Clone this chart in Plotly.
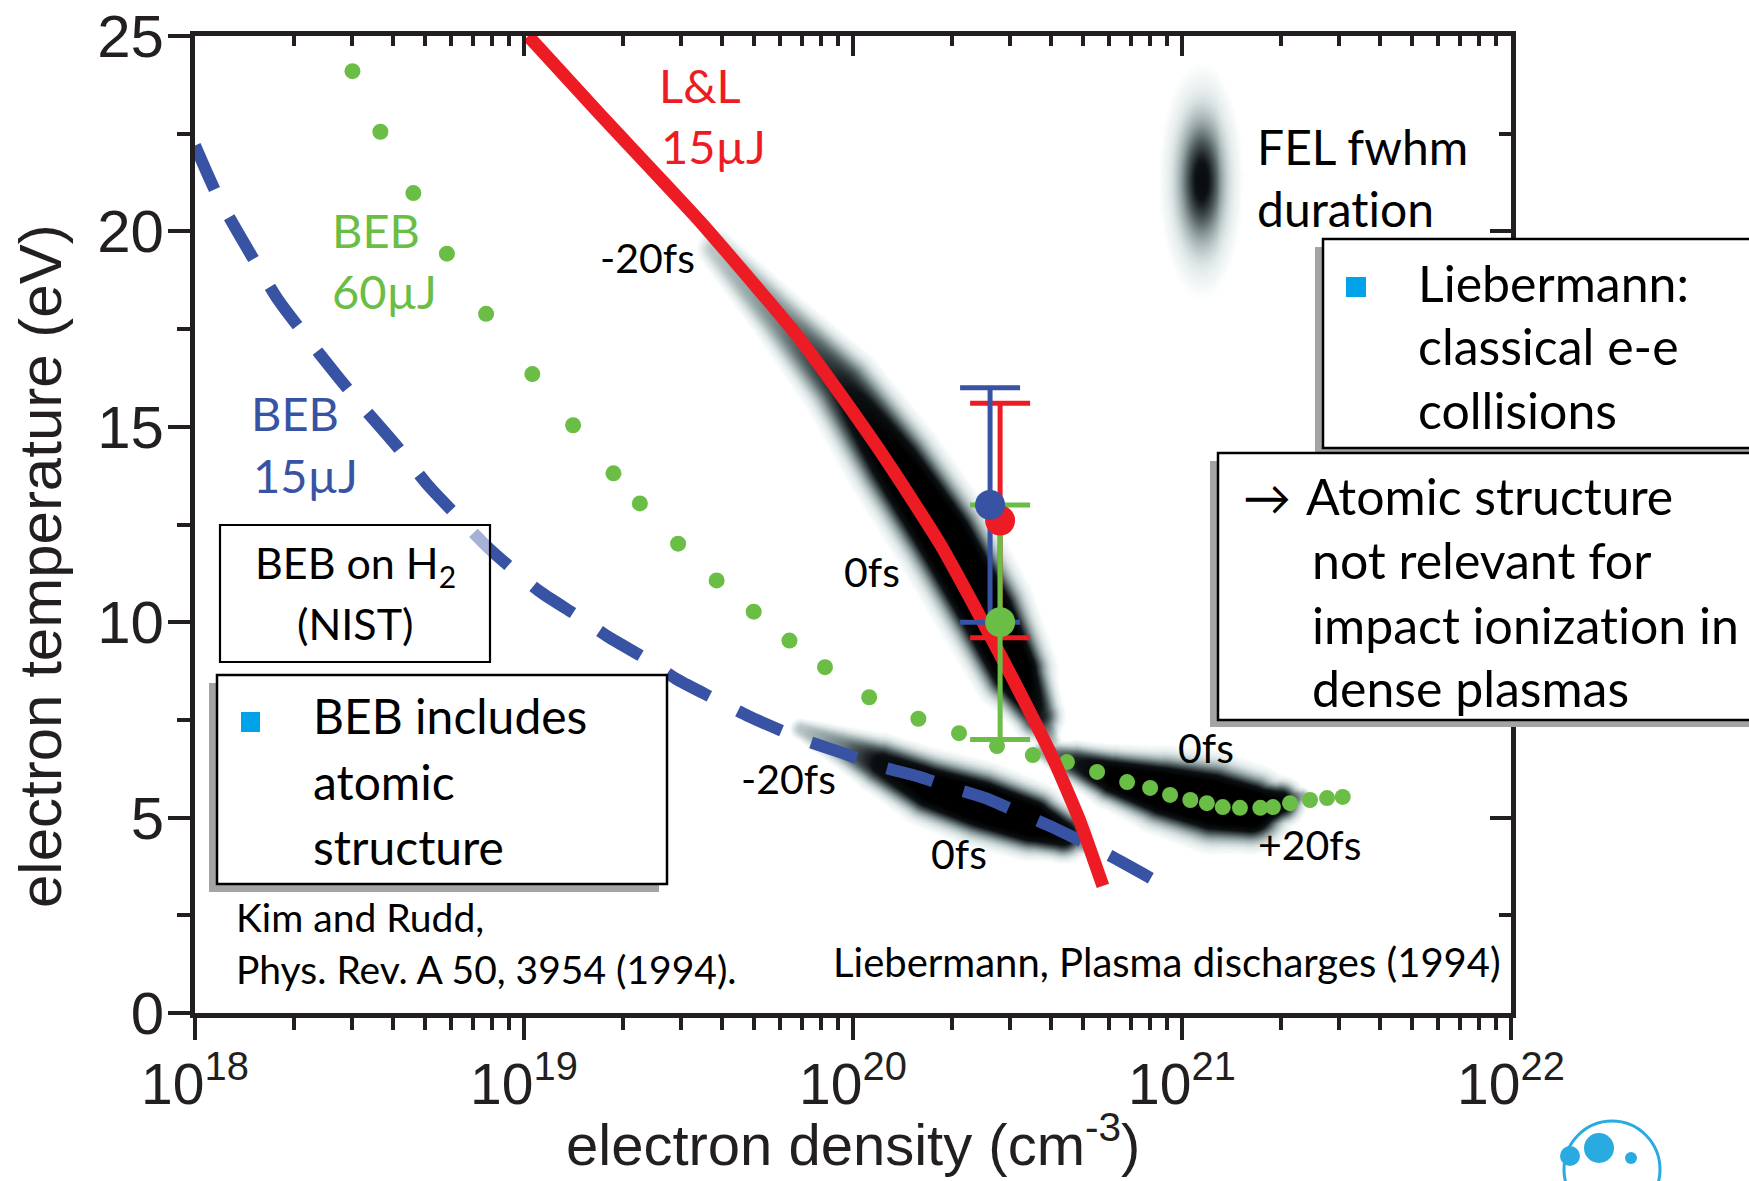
import numpy as np
import plotly.graph_objects as go

# ---------------- data ----------------
# L&L, 15 µJ  (solid red curve)
ll15_density = [1.03e19, 1.70e19, 3.43e19, 6.67e19, 9.12e19, 1.32e20, 1.84e20,
                2.43e20, 3.06e20, 4.06e20, 4.90e20, 5.75e20]
ll15_temp = [25.0, 23.0, 20.25, 17.4, 15.85, 13.9, 12.0, 10.15, 8.55, 6.5, 4.9, 3.25]

# BEB, 15 µJ  (dashed blue curve)
beb15_density = [1.00e18, 1.18e18, 1.48e18, 1.79e18, 2.40e18, 3.13e18, 4.11e18,
                 5.11e18, 6.46e18, 7.91e18, 1.11e19, 1.43e19, 1.81e19, 2.36e19,
                 2.94e19, 3.77e19, 4.80e19, 7.03e19, 9.31e19, 1.20e20, 1.58e20,
                 1.97e20, 2.53e20, 3.15e20, 4.17e20, 5.97e20, 8.04e20]
beb15_temp = [22.2, 20.85, 19.4, 18.25, 16.85, 15.65, 14.5, 13.5, 12.6, 11.85,
              10.8, 10.2, 9.62, 9.05, 8.52, 8.05, 7.6, 7.0, 6.65, 6.32, 6.05,
              5.78, 5.5, 5.15, 4.7, 4.05, 3.45]

# BEB, 60 µJ  (dotted green curve, one value per dot)
beb60_density = [3.01e18, 3.66e18, 4.61e18, 5.83e18, 7.67e18, 1.06e19, 1.41e19,
                 1.87e19, 2.25e19, 2.94e19, 3.85e19, 4.99e19, 6.41e19, 8.22e19,
                 1.12e20, 1.58e20, 2.10e20, 2.74e20, 3.52e20, 4.47e20, 5.52e20,
                 6.81e20, 8.00e20, 9.20e20, 1.06e21, 1.19e21, 1.33e21, 1.50e21,
                 1.73e21, 1.89e21, 2.13e21, 2.45e21, 2.76e21, 3.08e21]
beb60_temp = [24.1, 22.55, 20.98, 19.43, 17.89, 16.35, 15.04, 13.81, 13.04, 12.01,
              11.07, 10.27, 9.53, 8.85, 8.08, 7.53, 7.16, 6.83, 6.60, 6.42, 6.17,
              5.91, 5.76, 5.58, 5.45, 5.37, 5.27, 5.25, 5.25, 5.27, 5.37, 5.45,
              5.50, 5.53]

# measured points with error bars
meas_names = ["L&L 15µJ", "BEB 15µJ", "BEB 60µJ"]
meas_density = [2.80e20, 2.61e20, 2.80e20]
meas_temp = [12.6, 13.0, 10.0]
meas_err = [3.0, 3.0, 3.0]

# FEL fwhm duration bands (centre line, half width in px, strength)
fel_red_density = [3.81e19, 6.00e19, 9.20e19, 1.33e20, 1.87e20, 2.52e20, 3.07e20, 3.62e20, 3.95e20]
fel_red_temp = [19.58, 17.78, 16.07, 14.10, 12.23, 10.31, 8.78, 7.63, 6.99]
fel_red_halfwidth = [14, 20, 27, 31, 32, 31, 27, 18, 8]
fel_red_strength = [0.2, 0.4, 0.7, 1.1, 1.3, 1.3, 1.2, 0.7, 0.25]

fel_blue_density = [6.90e19, 9.12e19, 1.21e20, 1.71e20, 2.43e20, 3.45e20, 4.32e20, 4.90e20]
fel_blue_temp = [7.29, 6.86, 6.40, 5.78, 5.37, 4.94, 4.61, 4.35]
fel_blue_halfwidth = [8, 14, 20, 25, 27, 25, 19, 8]
fel_blue_strength = [0.2, 0.4, 0.8, 1.1, 1.25, 1.2, 0.9, 0.35]

fel_green_density = [3.75e20, 4.73e20, 6.17e20, 8.75e20, 1.24e21, 1.61e21, 1.99e21, 2.32e21]
fel_green_temp = [6.73, 6.42, 6.06, 5.71, 5.42, 5.25, 5.42, 5.58]
fel_green_halfwidth = [8, 15, 21, 28, 32, 28, 17, 6]
fel_green_strength = [0.3, 0.7, 1.05, 1.25, 1.3, 1.25, 0.9, 0.3]

fel_key_density = 1.14e21
fel_key_temp = 21.32

# axis ticks
x_major = [1e18, 1e19, 1e20, 1e21, 1e22]
x_major_text = ["10<sup>18</sup>", "10<sup>19</sup>", "10<sup>20</sup>",
                "10<sup>21</sup>", "10<sup>22</sup>"]
x_minor = [m * 10.0 ** e for e in range(18, 22) for m in range(2, 10)]

# ---------------- styling ----------------
RED, BLUE, GREEN = "#ed1c24", "#3953a4", "#6abd45"
CYAN, INK = "#00a2e8", "#231f20"
LATO = "Lato, 'Noto Sans', 'DejaVu Sans', sans-serif"
ARIAL = "'Liberation Sans', Arial, sans-serif"

FW, FH = 1749, 1181
ML, MR, MT, MB = 195, 238, 36, 168
PW, PH = FW - ML - MR, FH - MT - MB
kx = PW / 4.0      # px per decade
ky = PH / 25.0     # px per eV


def px2x(p):
    return (p - ML) / PW


def px2y(p):
    return (MT + PH - p) / PH


# ---------------- FEL intensity field ----------------
lx_grid = np.arange(19.40, 21.50, 3.0 / kx)
t_grid = np.arange(2.8, 24.6, 3.0 / ky)
LX, TT = np.meshgrid(lx_grid, t_grid)
U = (LX - 18.0) * kx
V = TT * ky


def band(dens, temp, hw, strength):
    pu = (np.log10(dens) - 18.0) * kx
    pv = np.array(temp) * ky
    z = np.zeros_like(U)
    for i in range(len(pu) - 1):
        dx, dy = pu[i + 1] - pu[i], pv[i + 1] - pv[i]
        t = np.clip(((U - pu[i]) * dx + (V - pv[i]) * dy) / (dx * dx + dy * dy), 0, 1)
        d = np.hypot(U - (pu[i] + t * dx), V - (pv[i] + t * dy))
        w = hw[i] + t * (hw[i + 1] - hw[i])
        s = strength[i] + t * (strength[i + 1] - strength[i])
        z = np.maximum(z, s * np.exp(-(d / w) ** 3))
    return z


z = band(fel_red_density, fel_red_temp, fel_red_halfwidth, fel_red_strength)
z = np.maximum(z, band(fel_blue_density, fel_blue_temp, fel_blue_halfwidth, fel_blue_strength))
z = np.maximum(z, band(fel_green_density, fel_green_temp, fel_green_halfwidth, fel_green_strength))
uc, vc = (np.log10(fel_key_density) - 18.0) * kx, fel_key_temp * ky
z = np.maximum(z, 0.8 * np.exp(-(((U - uc) / 21.0) ** 2 + ((V - vc) / 58.0) ** 2)))
z = np.where(z < 0.012, 0.0, np.round(np.minimum(z, 1.0), 3))

fel_scale = [[0.0, "rgba(255,255,255,0)"], [0.03, "rgba(240,245,245,0.9)"],
             [0.12, "rgb(212,222,222)"], [0.30, "rgb(150,165,166)"],
             [0.50, "rgb(80,93,95)"], [0.72, "rgb(14,18,20)"], [1.0, "rgb(0,0,0)"]]

fig = go.Figure()
fig.add_trace(go.Heatmap(x=10 ** lx_grid, y=t_grid, z=z, colorscale=fel_scale,
                         zmin=0, zmax=1, zsmooth="best", showscale=False,
                         hoverinfo="skip"))

fig.add_trace(go.Scatter(x=beb15_density, y=beb15_temp, mode="lines",
                         line=dict(color=BLUE, width=12, dash="48px,32px",
                                   shape="spline", smoothing=0.6),
                         hoverinfo="skip"))
fig.add_trace(go.Scatter(x=beb60_density, y=beb60_temp, mode="markers",
                         marker=dict(color=GREEN, size=16, line=dict(width=0)),
                         hoverinfo="skip"))
fig.add_trace(go.Scatter(x=ll15_density, y=ll15_temp, mode="lines",
                         line=dict(color=RED, width=13, shape="spline", smoothing=0.5),
                         hoverinfo="skip"))

meas_colors = [RED, BLUE, GREEN]
for i in range(3):
    fig.add_trace(go.Scatter(x=[meas_density[i]], y=[meas_temp[i]], mode="markers",
                             marker=dict(size=2, opacity=0),
                             error_y=dict(type="data", array=[meas_err[i]], visible=True,
                                          color=meas_colors[i], thickness=5, width=30),
                             hoverinfo="skip"))
for i in range(3):
    fig.add_trace(go.Scatter(x=[meas_density[i]], y=[meas_temp[i]], mode="markers",
                             name=meas_names[i],
                             marker=dict(size=30, color=meas_colors[i], line=dict(width=0)),
                             hoverinfo="skip"))

# empty trace so the mirrored top/right axes are drawn
fig.add_trace(go.Scatter(x=[], y=[], xaxis="x2", yaxis="y2", hoverinfo="skip"))

# ---------------- shapes ----------------
shapes = []


def rect(x0, y0, x1, y1, fill, line_w=0, line_c="black"):
    shapes.append(dict(type="rect", xref="paper", yref="paper",
                       x0=px2x(x0), x1=px2x(x1), y0=px2y(y1), y1=px2y(y0),
                       fillcolor=fill, line=dict(width=line_w, color=line_c)))


SHADOW = "#a4a4a4"
rect(1315, 247, 1800, 456, SHADOW)
rect(1323, 239, 1800, 448, "white", 2.5)
rect(1210, 461, 1800, 727, SHADOW)
rect(1218, 453, 1800, 720, "white", 2.5)
rect(220, 525, 490, 662, "rgba(255,255,255,0.55)", 2.2)
rect(209, 683, 659, 892, SHADOW)
rect(217, 675, 667, 884, "white", 2.5)
rect(1346, 277, 1366, 297, CYAN)
rect(241, 712, 260, 732, CYAN)

# logo fragment
LOGO = "#29abe2"
shapes.append(dict(type="circle", xref="paper", yref="paper",
                   x0=px2x(1564), x1=px2x(1660), y0=px2y(1218), y1=px2y(1121),
                   line=dict(color=LOGO, width=3)))
for (cx, cy, r) in [(1599, 1148, 15), (1570, 1156, 10), (1631, 1158, 6)]:
    shapes.append(dict(type="circle", xref="paper", yref="paper",
                       x0=px2x(cx - r), x1=px2x(cx + r), y0=px2y(cy + r), y1=px2y(cy - r),
                       fillcolor=LOGO, line=dict(width=0)))

# ---------------- annotations ----------------
ann = []
NOLIG = "<span style='font-variant-ligatures:none'>{}</span>"


def label(text, x, y, size, color="black", xanchor="left", family=LATO, angle=0):
    ann.append(dict(text=text, x=px2x(x), y=px2y(y), xref="paper", yref="paper",
                    showarrow=False, xanchor=xanchor, yanchor="middle",
                    textangle=angle, borderpad=0,
                    font=dict(family=family, size=size, color=color)))


label("L&L", 658, 85, 47, RED)
label("15µJ", 660, 146, 47, RED)
label("BEB", 331, 230, 47, GREEN)
label("60µJ", 331, 291, 47, GREEN)
label("BEB", 250, 413, 47, BLUE)
label("15µJ", 252, 475, 47, BLUE)

label("-20fs", 599, 257, 41)
label("0fs", 843, 571, 41)
label("-20fs", 740, 778, 41)
label("0fs", 930, 853, 41)
label("0fs", 1177, 747, 41)
label("+20fs", 1257, 844, 41)

label("FEL fwhm", 1256, 146, 48)
label(NOLIG.format("duration"), 1256, 208, 48)

label("Liebermann:", 1417, 283, 50)
label("classical e-e", 1417, 346, 50)
label("collisions", 1417, 410, 50)

label("→", 1242, 496, 48)
label("Atomic structure", 1305, 496, 50)
label("not relevant for", 1311, 560, 50)
label(NOLIG.format("impact ionization in"), 1311, 625, 50)
label("dense plasmas", 1311, 688, 50)

label("BEB on H<sub>2</sub>", 355, 565, 43, xanchor="center")
label("(NIST)", 355, 623, 43, xanchor="center")

label("BEB includes", 312, 716, 48)
label("atomic", 312, 781, 48)
label("structure", 312, 846, 48)

label("Kim and Rudd,", 235, 917, 39)
label("Phys. Rev. A 50, 3954 (1994).", 235, 969, 39)
label("Liebermann, Plasma discharges (1994)", 1502, 962, 40, xanchor="right")

label("electron temperature (eV)", 40, 566, 60, INK, xanchor="center",
      family=ARIAL, angle=-90)
label("electron density (cm<sup>-3</sup>)", 853, 1140, 58, INK, xanchor="center",
      family=ARIAL)
label("<b>DESY</b>", 1604, 1196, 30, LOGO, xanchor="center", family=ARIAL)

# ---------------- layout ----------------
axis_common = dict(showgrid=False, zeroline=False, automargin=False)
fig.update_layout(
    width=FW, height=FH, autosize=False,
    margin=dict(l=ML, r=MR, t=MT, b=MB, pad=0),
    paper_bgcolor="white", plot_bgcolor="white",
    showlegend=False,
    shapes=shapes, annotations=ann,
    xaxis=dict(type="log", range=[18, 22], tickmode="array", tickvals=x_major,
               ticktext=x_major_text, ticks="outside", ticklen=22, tickwidth=4,
               tickcolor=INK, showline=True, linewidth=5, linecolor=INK, mirror=True,
               tickfont=dict(family=ARIAL, size=57, color=INK),
               ticklabelstandoff=-4,
               minor=dict(tickmode="array", tickvals=x_minor, ticks="outside",
                          ticklen=12, tickwidth=4, tickcolor=INK, showgrid=False),
               **axis_common),
    yaxis=dict(range=[0, 25], tickmode="linear", tick0=0, dtick=5, ticks="outside",
               ticklen=22, tickwidth=4, tickcolor=INK, showline=True, linewidth=5,
               linecolor=INK, mirror=True,
               tickfont=dict(family=ARIAL, size=60, color=INK),
               ticklabelstandoff=-8,
               minor=dict(tick0=0, dtick=2.5, ticks="outside", ticklen=13,
                          tickwidth=4, tickcolor=INK, showgrid=False),
               **axis_common),
    xaxis2=dict(type="log", range=[18, 22], overlaying="x", side="top",
                tickmode="array", tickvals=x_major, showticklabels=False,
                ticks="inside", ticklen=20, tickwidth=4, tickcolor=INK, showline=False,
                minor=dict(tickmode="array", tickvals=x_minor, ticks="inside",
                           ticklen=10, tickwidth=4, tickcolor=INK, showgrid=False),
                **axis_common),
    yaxis2=dict(range=[0, 25], overlaying="y", side="right", tickmode="linear",
                tick0=0, dtick=5, showticklabels=False, ticks="inside", ticklen=21,
                tickwidth=4, tickcolor=INK, showline=False,
                minor=dict(tick0=0, dtick=2.5, ticks="inside", ticklen=12,
                           tickwidth=4, tickcolor=INK, showgrid=False),
                **axis_common),
)

fig.write_html("out.html", config={"displayModeBar": False})
